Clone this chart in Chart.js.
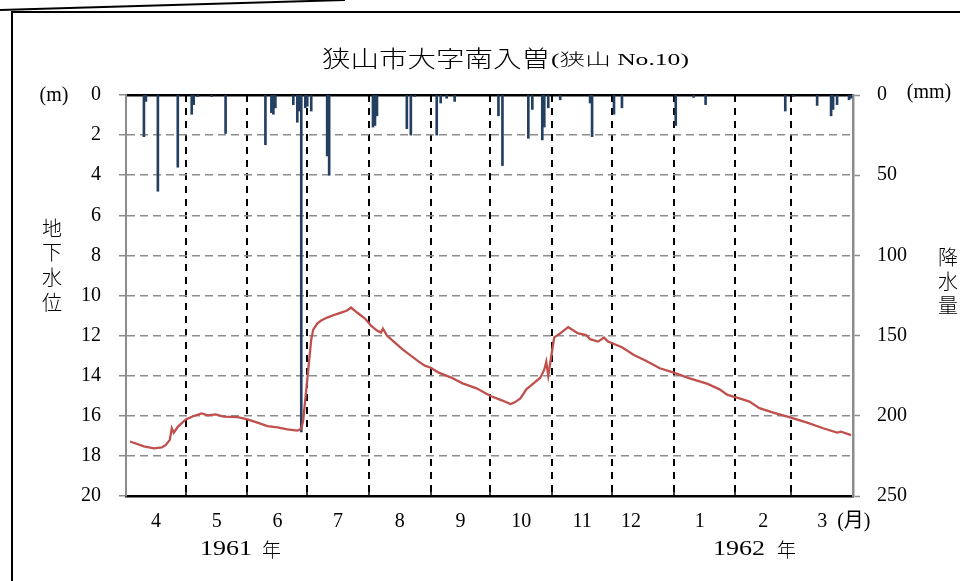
<!DOCTYPE html>
<html>
<head>
<meta charset="utf-8">
<script src="https://cdn.jsdelivr.net/npm/chart.js@4/dist/chart.umd.min.js"></script>
<style>
  html, body { margin: 0; padding: 0; background: #fff; }
  #wrap { width: 960px; height: 581px; position: relative; }
</style>
</head>
<body>
<div id="wrap"><canvas id="c" width="960" height="581"></canvas></div>
<script>
// Day numbers count from 1 April 1961 (day 0) to 31 March 1962 (day 365).
const monthStarts = [0, 30, 61, 91, 122, 153, 183, 214, 244, 275, 306, 334, 365];
const monthLabels = ['4', '5', '6', '7', '8', '9', '10', '11', '12', '1', '2', '3'];
const monthLabelDays = [15, 45.5, 76, 106.5, 137.5, 168, 198.5, 229, 253.5, 288, 320, 349.5];
const levelTicks = [0, 2, 4, 6, 8, 10, 12, 14, 16, 18, 20];
const rainTicks = [0, 50, 100, 150, 200, 250];

// Daily precipitation (mm)
const rainDays = [9, 10, 16, 26, 33, 34, 36, 43, 50, 70,
  73, 74, 75, 84, 86, 87, 88, 90, 91, 93,
  101, 102, 124, 125, 126, 141, 143, 145, 156, 158,
  161, 165, 187, 189, 202, 204, 209, 210, 212, 218,
  233, 234, 245, 249, 276, 285, 291, 331, 335, 347,
  354, 355, 357, 363, 364];
const rainMm = [26, 4, 60, 45, 12, 6, 1, 1, 24, 31,
  11, 12, 8, 6, 17, 10, 210, 8, 7, 10,
  38, 50, 20, 19, 13, 21, 25, 1, 25, 5,
  2, 4, 13, 44, 27, 9, 28, 20, 8, 3,
  5, 26, 12, 8, 19, 1.5, 6, 10, 1, 6.5,
  13, 9, 6, 3, 2];

// Groundwater level below surface (m)
const levelDays = [2, 9, 14, 18, 20, 22, 23, 24, 26, 30,
  34, 38, 41, 45, 49, 56, 61, 66, 71, 76,
  81, 86, 88, 89, 90, 91, 92, 93, 94, 96,
  98, 101, 105, 108, 111, 113, 116, 120, 123, 126,
  128, 129, 131, 135, 139, 143, 147, 150, 153, 157,
  163, 169, 176, 183, 189, 193, 195, 198, 201, 204,
  208, 210, 211, 212, 214, 215, 218, 222, 227, 231,
  233, 237, 240, 242, 249, 255, 261, 268, 275, 283,
  292, 298, 302, 308, 313, 318, 325, 333, 342, 350,
  357, 359, 364];
const levelM = [17.28, 17.52, 17.62, 17.58, 17.45, 17.2, 16.62, 16.84, 16.55, 16.18,
  16.01, 15.88, 15.98, 15.93, 16.04, 16.07, 16.18, 16.34, 16.51, 16.58,
  16.68, 16.74, 16.65, 16.2, 15.2, 14.2, 13.2, 12.2, 11.7, 11.4,
  11.25, 11.1, 10.95, 10.85, 10.75, 10.6, 10.85, 11.15, 11.5, 11.75,
  11.85, 11.65, 12.0, 12.35, 12.7, 13.0, 13.3, 13.5, 13.6, 13.85,
  14.08, 14.38, 14.63, 15.01, 15.24, 15.41, 15.34, 15.13, 14.68, 14.43,
  14.1, 13.7, 13.3, 14.0, 12.72, 12.09, 11.89, 11.58, 11.89, 11.97,
  12.18, 12.3, 12.1, 12.3, 12.58, 12.97, 13.25, 13.63, 13.85, 14.13,
  14.41, 14.68, 14.96, 15.13, 15.29, 15.62, 15.84, 16.07, 16.34, 16.62,
  16.84, 16.79, 16.96];

const SERIF = "'Liberation Serif', 'Noto Sans CJK JP', serif";
const CJK = "'Noto Sans CJK JP', sans-serif";

// Month ticks: boundaries carry the dashed grid, label ticks carry the month numbers
const labelAt = new Map();
monthLabelDays.forEach((d, i) => labelAt.set(d, monthLabels[i]));
const boundarySet = new Set(monthStarts);

const decorations = {
  id: 'decorations',
  afterDraw(chart) {
    const ctx = chart.ctx;
    const xs = chart.scales.x;
    const { top, bottom } = chart.chartArea;
    ctx.save();
    ctx.fillStyle = '#000';
    ctx.strokeStyle = '#000';

    // short inner tick marks on the bottom axis at month boundaries
    ctx.lineWidth = 1.5;
    monthStarts.slice(1, -1).forEach(d => {
      const px = Math.round(xs.getPixelForValue(d));
      ctx.beginPath();
      ctx.moveTo(px, bottom - 7);
      ctx.lineTo(px, bottom);
      ctx.stroke();
    });

    // title
    ctx.textBaseline = 'middle';
    ctx.textAlign = 'left';
    ctx.save();
    ctx.translate(322, 58);
    ctx.scale(1.24, 1);
    ctx.font = '300 23px ' + CJK;
    ctx.fillText('狭山市大字南入曽', 0, 0);
    ctx.restore();
    ctx.save();
    ctx.translate(551, 61);
    ctx.scale(1.6, 1);
    ctx.font = '300 16px ' + SERIF;
    ctx.fillText('(狭山 No.10)', 0, 0);
    ctx.restore();

    // units
    ctx.font = '20px ' + SERIF;
    ctx.textAlign = 'center';
    ctx.fillText('(m)', 54, top + 1);
    ctx.fillText('(mm)', 929, top - 2);

    // axis titles, one character per line
    ctx.font = '300 20px ' + CJK;
    ['地', '下', '水', '位'].forEach((ch, i) => ctx.fillText(ch, 52, 228 + i * 24.7));
    ['降', '水', '量'].forEach((ch, i) => ctx.fillText(ch, 948, 257 + i * 24));

    // month unit and years
    const yLab = bottom + 26;
    ctx.textAlign = 'left';
    ctx.font = '20px ' + SERIF;
    ctx.fillText('(月)', xs.getPixelForValue(349.5) + 15, yLab);
    ctx.save();
    ctx.translate(200, bottom + 54);
    ctx.scale(1.3, 1);
    ctx.fillText('1961', 0, 0);
    ctx.restore();
    ctx.save();
    ctx.translate(713, bottom + 54);
    ctx.scale(1.3, 1);
    ctx.fillText('1962', 0, 0);
    ctx.restore();
    ctx.font = '300 19px ' + CJK;
    ctx.fillText('年', 262, bottom + 54);
    ctx.fillText('年', 777, bottom + 54);

    // page frame
    ctx.lineWidth = 2;
    ctx.beginPath();
    ctx.moveTo(12, 581);
    ctx.lineTo(12, 12);
    ctx.lineTo(960, 12);
    ctx.stroke();
    ctx.beginPath();
    ctx.moveTo(0, 10);
    ctx.lineTo(345, 0);
    ctx.stroke();
    ctx.restore();
  }
};

new Chart(document.getElementById('c'), {
  data: {
    datasets: [
      {
        type: 'line',
        label: '地下水位',
        data: levelDays.map((d, i) => ({ x: d, y: levelM[i] })),
        yAxisID: 'yL',
        xAxisID: 'x',
        borderColor: '#C0504D',
        borderWidth: 2.3,
        pointRadius: 0,
        tension: 0,
        order: 1
      },
      {
        type: 'bar',
        label: '降水量',
        data: rainDays.map((d, i) => ({ x: d, y: rainMm[i] })),
        yAxisID: 'yR',
        xAxisID: 'x',
        backgroundColor: '#243F60',
        barThickness: 2,
        grouped: false,
        order: 2
      }
    ]
  },
  options: {
    responsive: false,
    animation: false,
    events: [],
    layout: { padding: { top: 95, left: 0, right: 0, bottom: 0 } },
    plugins: { legend: { display: false }, tooltip: { enabled: false }, title: { display: false } },
    scales: {
      x: {
        type: 'linear',
        position: 'bottom',
        offset: false,
        min: 0,
        max: 365,
        afterBuildTicks: s => {
          const vals = [...monthStarts, ...monthLabelDays].sort((a, b) => a - b);
          s.ticks = vals.map(v => ({ value: v }));
        },
        afterFit: s => { s.height = 85; },
        ticks: {
          autoSkip: false,
          maxRotation: 0,
          padding: 14,
          color: '#000',
          font: { family: SERIF, size: 20 },
          callback: v => labelAt.has(v) ? labelAt.get(v) : ''
        },
        grid: {
          offset: false,
          drawTicks: false,
          lineWidth: 2,
          color: c => (c.tick && boundarySet.has(c.tick.value) && c.tick.value !== 0 && c.tick.value !== 365) ? '#000' : 'rgba(0,0,0,0)'
        },
        border: { display: true, color: '#000', width: 2.5, dash: [7, 6] }
      },
      xTop: {
        type: 'linear',
        position: 'top',
        offset: false,
        min: 0,
        max: 365,
        afterFit: s => { s.height = 0; },
        ticks: { display: false },
        grid: { display: false, drawTicks: false, offset: false },
        border: { display: true, color: '#000', width: 2.5 }
      },
      yL: {
        type: 'linear',
        position: 'left',
        reverse: true,
        min: 0,
        max: 20,
        afterBuildTicks: s => { s.ticks = levelTicks.map(v => ({ value: v })); },
        afterFit: s => { s.width = 126; },
        ticks: { padding: 18, color: '#000', font: { family: SERIF, size: 20 } },
        grid: {
          lineWidth: 1.5,
          color: c => (c.tick && (c.tick.value === 0 || c.tick.value === 20)) ? 'rgba(0,0,0,0)' : '#8c8c8c',
          tickColor: '#8c8c8c',
          tickLength: 7,
          tickWidth: 1.5,
          tickBorderDash: []
        },
        border: { display: true, color: '#8c8c8c', width: 2, dash: [8, 5] }
      },
      yR: {
        type: 'linear',
        position: 'right',
        reverse: true,
        min: 0,
        max: 250,
        afterBuildTicks: s => { s.ticks = rainTicks.map(v => ({ value: v })); },
        afterFit: s => { s.width = 107; },
        ticks: { padding: 17, color: '#000', font: { family: SERIF, size: 20 } },
        grid: {
          drawOnChartArea: false,
          tickColor: '#8c8c8c',
          tickLength: 7,
          tickWidth: 1.5
        },
        border: { display: true, color: '#8c8c8c', width: 2.5 }
      }
    }
  },
  plugins: [decorations]
});
</script>
</body>
</html>
